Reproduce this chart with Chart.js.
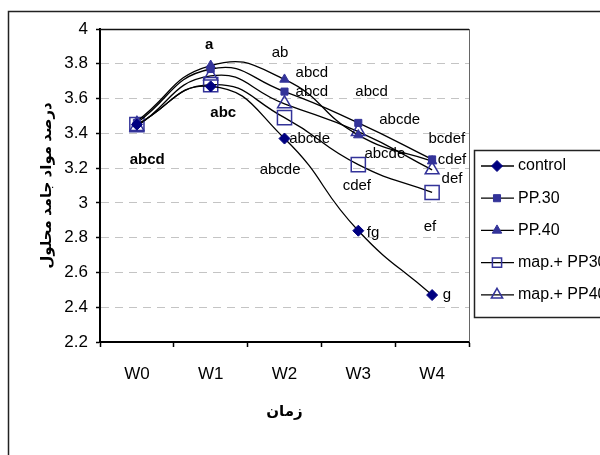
<!DOCTYPE html>
<html>
<head>
<meta charset="utf-8">
<script src="https://cdn.jsdelivr.net/npm/chart.js@4/dist/chart.umd.min.js"></script>
<style>
    html, body { margin: 0; padding: 0; background: #fff; }
</style>
</head>
<body>
<canvas id="chart" width="600" height="455"></canvas>
<script>
// Chart data
const weeks = ['W0', 'W1', 'W2', 'W3', 'W4'];
const seriesNames = ['control', 'PP.30', 'PP.40', 'map.+ PP30', 'map.+ PP40'];
const control = [3.45, 3.67, 3.37, 2.84, 2.47];
const pp30 = [3.46, 3.77, 3.64, 3.46, 3.25];
const pp40 = [3.47, 3.79, 3.71, 3.39, 3.24];
const mapPp30 = [3.45, 3.68, 3.49, 3.22, 3.06];
const mapPp40 = [3.44, 3.73, 3.57, 3.41, 3.19];
const yTicksMin = 2.2, yTicksMax = 4, yStep = 0.2;
const yTitle = 'درصد مواد جامد محلول';
const xTitle = 'زمان';

// mean comparison letters: text, week index, value, bold
const letterText = ['abcd', 'a', 'abc', 'ab', 'abcd', 'abcd', 'abcde', 'abcde', 'abcd', 'abcde', 'abcde', 'cdef', 'fg', 'ef', 'bcdef', 'cdef', 'def', 'g'];
const letterWeek = [0.14, 0.98, 1.17, 1.94, 2.37, 2.37, 2.34, 1.94, 3.18, 3.56, 3.36, 2.98, 3.20, 3.97, 4.20, 4.27, 4.27, 4.20];
const letterValue = [3.25, 3.91, 3.52, 3.86, 3.75, 3.64, 3.37, 3.19, 3.64, 3.48, 3.28, 3.10, 2.83, 2.86, 3.37, 3.25, 3.14, 2.47];
const letterBold = [true, true, true];

const NAVY = '#000080';
const BLUE = '#333399';
const FONT = 'Arial, "Liberation Sans", "DejaVu Sans"';

const markers = [
    { pointStyle: 'rectRot', radius: 5.5, bg: NAVY, border: NAVY, bw: 1 },
    { pointStyle: 'rect', radius: 5, bg: BLUE, border: BLUE, bw: 1 },
    { pointStyle: 'triangle', radius: 5.5, bg: BLUE, border: BLUE, bw: 1 },
    { pointStyle: 'rect', radius: 10, bg: 'rgba(0,0,0,0)', border: BLUE, bw: 1.5 },
    { pointStyle: 'triangle', radius: 8, bg: 'rgba(0,0,0,0)', border: BLUE, bw: 1.5 }
];
const seriesData = [control, pp30, pp40, mapPp30, mapPp40];

const frame = {
    id: 'frame',
    beforeDraw(chart) {
        const ctx = chart.ctx;
        ctx.save();
        ctx.strokeStyle = '#222';
        ctx.lineWidth = 1.5;
        ctx.strokeRect(8.5, 11.5, 700, 600);
        ctx.restore();
    },
    beforeDatasetsDraw(chart) {
        const { ctx, chartArea: a } = chart;
        ctx.save();
        ctx.strokeStyle = '#111';
        ctx.lineWidth = 1.5;
        ctx.beginPath();
        ctx.moveTo(a.left, a.top + 0.5);
        ctx.lineTo(a.right, a.top + 0.5);
        ctx.stroke();
        ctx.strokeStyle = '#666';
        ctx.lineWidth = 1;
        ctx.beginPath();
        ctx.moveTo(a.right + 0.5, a.top);
        ctx.lineTo(a.right + 0.5, a.bottom);
        ctx.stroke();
        ctx.restore();
    }
};

const letters = {
    id: 'letters',
    afterDatasetsDraw(chart) {
        const { ctx, scales: { x, y } } = chart;
        ctx.save();
        ctx.fillStyle = '#000';
        ctx.textAlign = 'center';
        ctx.textBaseline = 'middle';
        letterText.forEach((t, i) => {
            ctx.font = (letterBold[i] ? 'bold ' : '') + '15px ' + FONT;
            ctx.fillText(t, x.getPixelForValue(letterWeek[i]), y.getPixelForValue(letterValue[i]));
        });
        ctx.restore();
    }
};

const sideLegend = {
    id: 'sideLegend',
    afterDraw(chart) {
        const ctx = chart.ctx;
        const left = 474, top = 150;
        ctx.save();
        ctx.strokeStyle = '#222';
        ctx.lineWidth = 1.5;
        ctx.strokeRect(left + 0.5, top + 0.5, 200, 167);
        chart.data.datasets.forEach((ds, i) => {
            const yy = top + 16 + i * 32.2;
            ctx.strokeStyle = '#000';
            ctx.lineWidth = 1.3;
            ctx.beginPath();
            ctx.moveTo(left + 7, yy);
            ctx.lineTo(left + 40, yy);
            ctx.stroke();
            const m = markers[i];
            ctx.fillStyle = m.bg;
            ctx.strokeStyle = m.border;
            ctx.lineWidth = m.bw;
            Chart.helpers.drawPoint(ctx, { pointStyle: m.pointStyle, radius: Math.min(m.radius, 6.5), rotation: 0, borderWidth: m.bw }, left + 23, yy);
            ctx.fillStyle = '#000';
            ctx.font = '16px ' + FONT;
            ctx.textAlign = 'left';
            ctx.textBaseline = 'middle';
            ctx.fillText(ds.label, left + 44, yy);
        });
        ctx.restore();
    }
};

new Chart(document.getElementById('chart'), {
    type: 'line',
    data: {
        labels: weeks,
        datasets: seriesNames.map((name, i) => ({
            label: name,
            data: seriesData[i],
            borderColor: '#000',
            borderWidth: 1.3,
            tension: 0.5,
            fill: false,
            pointStyle: markers[i].pointStyle,
            pointRadius: markers[i].radius,
            pointBackgroundColor: markers[i].bg,
            pointBorderColor: markers[i].border,
            pointBorderWidth: markers[i].bw
        }))
    },
    options: {
        responsive: false,
        animation: false,
        layout: { padding: { left: 38, top: 29, right: 131, bottom: 0 } },
        plugins: { legend: { display: false }, tooltip: { enabled: false } },
        scales: {
            x: {
                offset: true,
                grid: { offset: true, drawOnChartArea: false, drawTicks: true, tickLength: 5, tickColor: '#000', tickWidth: 1.5 },
                border: { color: '#000', width: 2 },
                ticks: { color: '#000', font: { family: FONT, size: 17 }, padding: 17 },
                title: { display: true, text: xTitle, color: '#000', font: { family: FONT, size: 15, weight: 'bold' }, padding: { top: 0, bottom: 34 } },
                afterFit(s) { s.height = 113; }
            },
            y: {
                min: yTicksMin,
                max: yTicksMax,
                ticks: {
                    stepSize: yStep,
                    color: '#000',
                    font: { family: FONT, size: 17 },
                    padding: 8,
                    callback: v => String(Math.round(v * 10) / 10)
                },
                grid: {
                    color: c => (c.tick && (Math.abs(c.tick.value - yTicksMin) < 1e-6 || Math.abs(c.tick.value - yTicksMax) < 1e-6)) ? 'rgba(0,0,0,0)' : '#c4c4c4',
                    lineWidth: 1,
                    tickColor: '#000',
                    tickLength: 4,
                    tickWidth: 1.5
                },
                border: { color: '#000', width: 2, dash: [8, 6] },
                title: { display: true, text: yTitle, color: '#000', font: { family: FONT, size: 15, weight: 'bold' }, padding: { top: 0, bottom: 0 } },
                afterFit(s) { s.width = 62; }
            }
        }
    },
    plugins: [frame, letters, sideLegend]
});
</script>
</body>
</html>
